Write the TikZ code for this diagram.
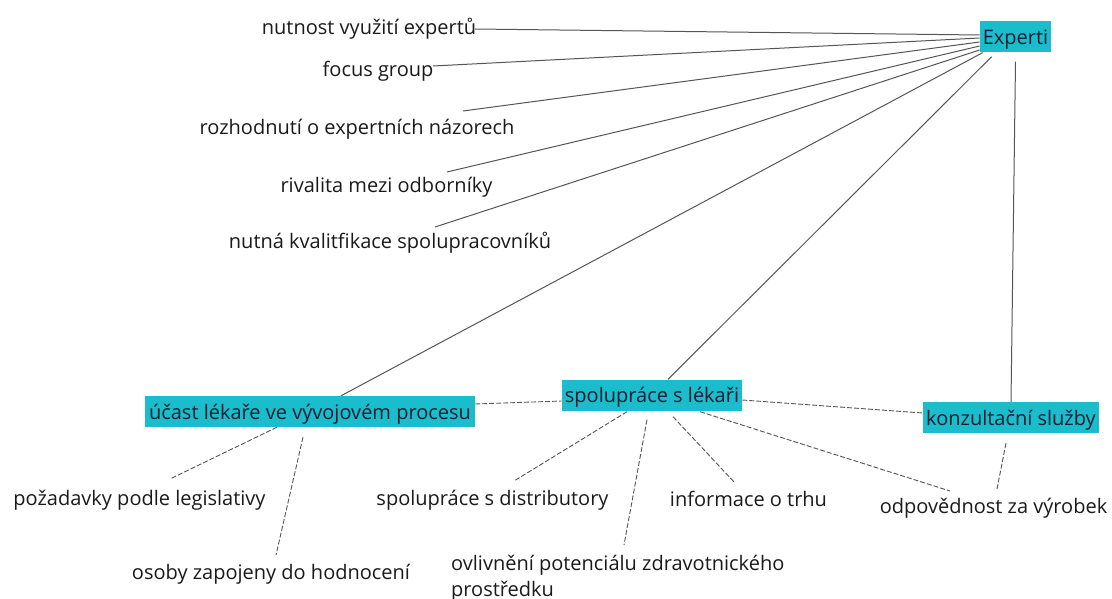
\documentclass[tikz,border=0pt]{standalone}
\usepackage{fontspec}
\setmainfont{Open Sans}
\definecolor{boxfill}{RGB}{27,188,204}
\definecolor{boxtext}{RGB}{18,32,50}
\definecolor{labeltext}{RGB}{26,26,26}
\definecolor{linkgray}{RGB}{85,85,85}
\tikzset{
  topic/.style={fill=boxfill, text=boxtext, font=\fontsize{20}{24}\selectfont,
    inner xsep=3pt, inner ysep=0pt, text height=16pt, text depth=1pt,
    minimum height=31pt, anchor=center},
  leaf/.style={text=labeltext, font=\fontsize{20}{26}\selectfont,
    inner sep=0pt, anchor=base},
  solidlink/.style={draw=linkgray, line width=1pt},
  dashlink/.style={draw=linkgray, line width=0.9pt, dash pattern=on 5pt off 2pt},
}
\begin{document}
\begin{tikzpicture}[x=1pt, y=-1pt]
\useasboundingbox (0,0) rectangle (1112,599);

% central topics
\node[topic, minimum width=67pt]  (exp)  at (1015.5,37)  {Experti};
\node[topic, minimum width=330pt] (ucast) at (310,411.5) {účast lékaře ve vývojovém procesu};
\node[topic, minimum width=178pt] (spol) at (652,395)   {spolupráce s lékaři};
\node[topic, minimum width=176pt] (konz) at (1011,417.5) {konzultační služby};

% labels around Experti
\node[leaf] (nut)   at (369,35)    {nutnost využití expertů};
\node[leaf] (focus) at (378,77)    {focus group};
\node[leaf] (rozh)  at (357,135)   {rozhodnutí o expertních názorech};
\node[leaf] (rival) at (386.5,193) {rivalita mezi odborníky};
\node[leaf] (nutna) at (390,248)   {nutná kvalitfikace spolupracovníků};

% labels in the lower row
\node[leaf] (pozad) at (139.5,505) {požadavky podle legislativy};
\node[leaf] (osoby) at (271,579)   {osoby zapojeny do hodnocení};
\node[leaf] (distr) at (492.5,505) {spolupráce s distributory};
\node[leaf, anchor=north west, align=left] (ovliv) at (451,555)
  {ovlivnění potenciálu zdravotnického\\prostředku};
\node[leaf] (info)  at (748.5,506) {informace o trhu};
\node[leaf] (odpov) at (993.5,513) {odpovědnost za výrobek};

% solid links to Experti
\draw[solidlink] ([shift={(106,-6)}]nut.base)    -- ([shift={(0,-2)}]exp.west);
\draw[solidlink] ([shift={(55,-11)}]focus.base)  -- ([shift={(0,1)}]exp.west);
\draw[solidlink] ([shift={(106,-24)}]rozh.base)  -- ([shift={(0,5)}]exp.west);
\draw[solidlink] ([shift={(60.5,-21)}]rival.base) -- ([shift={(0,9)}]exp.west);
\draw[solidlink] ([shift={(45,-21)}]nutna.base)  -- ([shift={(0,13)}]exp.west);
\draw[solidlink] ([shift={(3,0)}]exp.south west)  -- ([shift={(31,0)}]ucast.north);
\draw[solidlink] ([shift={(12,4)}]exp.south west) -- ([shift={(16,0)}]spol.north);
\draw[solidlink] ([shift={(0,9)}]exp.south)       -- (konz.north);

% dashed links between topics
\draw[dashlink] ([shift={(0,-7.5)}]ucast.east) -- ([shift={(0,6)}]spol.west);
\draw[dashlink] ([shift={(0,5)}]spol.east)     -- ([shift={(0,-4.5)}]konz.west);

% dashed links to the lower labels
\draw[dashlink] ([shift={(-33,0)}]ucast.south) -- ([shift={(30.5,-26)}]pozad.base);
\draw[dashlink] ([shift={(-7,10)}]ucast.south) -- ([shift={(5,-24)}]osoby.base);
\draw[dashlink] ([shift={(-25,1)}]spol.south)  -- ([shift={(21.5,-24)}]distr.base);
\draw[dashlink] ([shift={(-5,9)}]spol.south)   -- ([shift={(173,-10)}]ovliv.north west);
\draw[dashlink] ([shift={(21,6)}]spol.south)   -- ([shift={(-13.5,-23)}]info.base);
\draw[dashlink] ([shift={(48,1)}]spol.south)   -- ([shift={(-43.5,-22)}]odpov.base);
\draw[dashlink] ([shift={(-5,10)}]konz.south)  -- ([shift={(3.5,-24)}]odpov.base);
\end{tikzpicture}
\end{document}
